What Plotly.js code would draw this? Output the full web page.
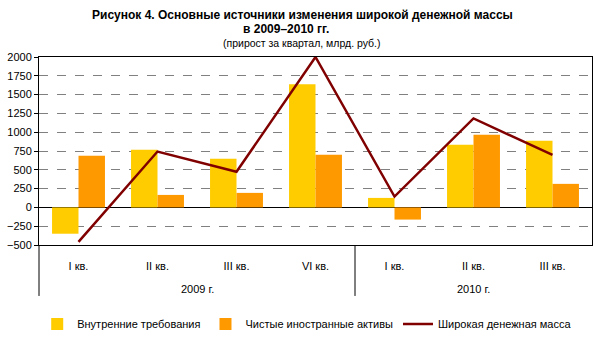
<!DOCTYPE html>
<html><head><meta charset="utf-8">
<script src="https://cdn.plot.ly/plotly-3.0.1.min.js"></script>
<style>body{margin:0;background:#fff}#c{width:601px;height:357px}</style>
</head><body><div id="c"></div>
<script>
const quarters = ['I кв.','II кв.','III кв.','VI кв.','I кв.','II кв.','III кв.'];
const years = ['2009 г.','2009 г.','2009 г.','2009 г.','2010 г.','2010 г.','2010 г.'];
const domestic = [-350, 766, 646, 1636, 126, 832, 886];
const foreign = [688, 166, 193, 699, -162, 965, 313];
const broad = [-458, 743, 473, 2000, 144, 1183, 699];
const seriesNames = ['Внутренние требования','Чистые иностранные активы','Широкая денежная масса'];

const idx = quarters.map((_, i) => i);
const font = 'Arial, "Liberation Sans", sans-serif';

// year groups
const groups = [];
years.forEach((y, i) => {
  const g = groups.find(g => g.name === y);
  if (g) g.last = i; else groups.push({name: y, first: i, last: i});
});

const annotations = [
  {text:'<b>Рисунок 4. Основные источники изменения широкой денежной массы</b>', xref:'paper', yref:'paper', x:0.477, y:1.223, yanchor:'middle', showarrow:false, font:{family:font,size:12,color:'#000'}},
  {text:'<b>в 2009–2010 гг.</b>', xref:'paper', yref:'paper', x:0.447, y:1.149, yanchor:'middle', showarrow:false, font:{family:font,size:12,color:'#000'}},
  {text:'(прирост за квартал, млрд. руб.)', xref:'paper', yref:'paper', x:0.476, y:1.074, yanchor:'middle', showarrow:false, font:{family:font,size:10.5,color:'#000'}}
];
const shapes = [];
groups.forEach((g, k) => {
  annotations.push({text:g.name, xref:'x', yref:'paper', x:(g.first+g.last)/2, y:-0.234, yanchor:'middle', showarrow:false, font:{family:font,size:11,color:'#000'}});
  if (k > 0) shapes.push({type:'line', xref:'x', yref:'paper', x0:g.first-0.5, x1:g.first-0.5, y0:0, y1:-0.271, line:{color:'#000',width:1}});
});
shapes.push({type:'line', xref:'paper', yref:'paper', x0:0, x1:0, y0:0, y1:-0.271, line:{color:'#000',width:1}});

const data = [
  {type:'bar', x:idx, y:domestic, name:seriesNames[0], marker:{color:'#FFCC00'}},
  {type:'bar', x:idx, y:foreign, name:seriesNames[1], marker:{color:'#FF9900'}},
  {type:'scatter', mode:'lines', x:idx, y:broad, name:seriesNames[2], line:{color:'#800000',width:2.5}}
];

const layout = {
  width:601, height:357,
  margin:{l:39, r:9, t:57, b:112},
  paper_bgcolor:'#fff', plot_bgcolor:'#fff',
  barmode:'group', bargap:0.33, bargroupgap:0,
  showlegend:true,
  legend:{orientation:'h', x:0.485, xanchor:'center', y:-0.42, yanchor:'middle', font:{family:font,size:11,color:'#000'}, itemwidth:30, tracegroupgap:0},
  xaxis:{range:[-0.5,6.5], tickvals:idx, ticktext:quarters, showgrid:false, zeroline:false,
    showline:true, linecolor:'#000', linewidth:1, mirror:true,
    ticks:'outside', ticklen:11, tickcolor:'rgba(0,0,0,0)', tickfont:{family:font,size:11,color:'#000'}, fixedrange:true},
  yaxis:{range:[-500,2000], dtick:250, tick0:0, showgrid:true, gridcolor:'#808080', griddash:'dash', gridwidth:1,
    zeroline:true, zerolinecolor:'#000', zerolinewidth:1,
    showline:true, linecolor:'#000', linewidth:1, mirror:true,
    ticks:'outside', ticklen:4, tickcolor:'#000', tickfont:{family:font,size:11,color:'#000'}, fixedrange:true},
  annotations, shapes,
  font:{family:font, color:'#000'}
};
Plotly.newPlot('c', data, layout, {staticPlot:true});
</script></body></html>
